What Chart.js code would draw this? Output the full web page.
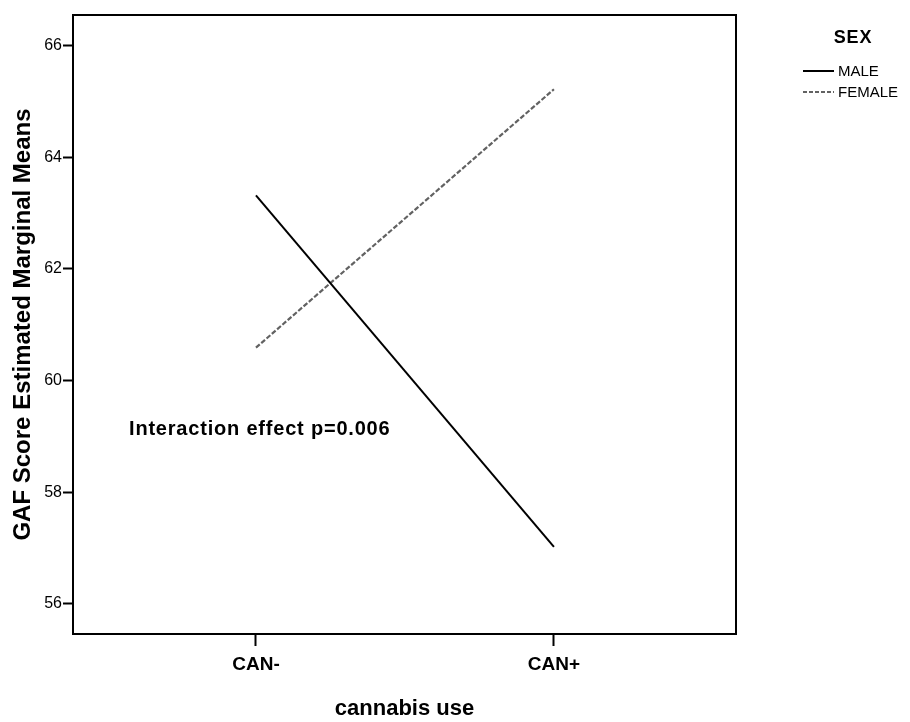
<!DOCTYPE html>
<html>
<head>
<meta charset="utf-8">
<script src="https://cdn.jsdelivr.net/npm/chart.js@4/dist/chart.umd.min.js"></script>
<style>
  html, body { margin: 0; padding: 0; background: #fff; }
  #c { display: block; }
</style>
</head>
<body>
<canvas id="c" width="910" height="722"></canvas>
<script>
// Estimated marginal means of GAF score by cannabis use and sex
const categories = ['CAN-', 'CAN+'];
const maleMeans = [63.32, 57.02];
const femaleMeans = [60.59, 65.22];
const yTicks = [56, 58, 60, 62, 64, 66];
const seriesNames = ['MALE', 'FEMALE'];
const legendTitle = 'SEX';
const noteText = 'Interaction effect p=0.006';

const FONT = '"Liberation Sans", Arial, Helvetica, sans-serif';
const FEMALE_COLOR = '#626262';
const FEMALE_DASH = [5, 2];

// Note anchored in data coordinates (left edge, vertical middle)
const noteAnchor = { x: -0.426, y: 59.13 };

const frameAndExtras = {
  id: 'frameAndExtras',
  afterDraw(chart) {
    const { ctx, chartArea: a, scales } = chart;
    ctx.save();
    // plot frame (top and right edges complete the box)
    ctx.strokeStyle = '#000';
    ctx.lineWidth = 2;
    ctx.strokeRect(a.left, a.top, a.right - a.left, a.bottom - a.top);

    // interaction note
    ctx.fillStyle = '#000';
    ctx.font = 'bold 20px ' + FONT;
    ctx.letterSpacing = '0.8px';
    ctx.textAlign = 'left';
    ctx.textBaseline = 'middle';
    ctx.fillText(noteText, scales.x.getPixelForValue(noteAnchor.x), scales.y.getPixelForValue(noteAnchor.y));

    // legend
    const lx = a.right + 67;
    ctx.font = 'bold 18px ' + FONT;
    ctx.letterSpacing = '0.8px';
    ctx.textAlign = 'center';
    ctx.fillText(legendTitle, lx + 50, 38);

    ctx.letterSpacing = '0px';
    ctx.font = '15px ' + FONT;
    ctx.textAlign = 'left';
    const rows = [
      { y: 71, color: '#000', dash: [] },
      { y: 92, color: FEMALE_COLOR, dash: [4, 2] }
    ];
    rows.forEach((r, i) => {
      ctx.beginPath();
      ctx.setLineDash(r.dash);
      ctx.strokeStyle = r.color;
      ctx.lineWidth = 2;
      ctx.moveTo(lx, r.y);
      ctx.lineTo(lx + 31, r.y);
      ctx.stroke();
      ctx.setLineDash([]);
      ctx.fillStyle = '#000';
      ctx.fillText(chart.data.datasets[i].label, lx + 35, r.y + 1);
    });
    ctx.restore();
  }
};

new Chart(document.getElementById('c'), {
  type: 'line',
  data: {
    datasets: [
      {
        label: seriesNames[0],
        data: maleMeans.map((v, i) => ({ x: i, y: v })),
        borderColor: '#000',
        borderWidth: 2,
        pointRadius: 0,
        fill: false
      },
      {
        label: seriesNames[1],
        data: femaleMeans.map((v, i) => ({ x: i, y: v })),
        borderColor: FEMALE_COLOR,
        borderWidth: 2.2,
        borderDash: FEMALE_DASH,
        pointRadius: 0,
        fill: false
      }
    ]
  },
  options: {
    responsive: false,
    animation: false,
    layout: { padding: { top: 15, right: 174, bottom: 0, left: 0 } },
    plugins: {
      legend: { display: false },
      tooltip: { enabled: false }
    },
    scales: {
      x: {
        type: 'linear',
        min: -0.614,
        max: 1.611,
        afterBuildTicks: s => { s.ticks = categories.map((_, i) => ({ value: i })); },
        afterFit: s => { s.height = 88; },
        ticks: {
          callback: v => categories[v],
          font: { family: FONT, size: 19, weight: 'bold' },
          color: '#000',
          padding: 7,
          maxRotation: 0,
          autoSkip: false
        },
        grid: { drawOnChartArea: false, drawTicks: true, tickLength: 12, tickWidth: 2, tickColor: '#000' },
        border: { display: true, color: '#000', width: 2 },
        title: {
          display: true,
          text: 'cannabis use',
          font: { family: FONT, size: 22, weight: 'bold' },
          color: '#000',
          padding: 0
        }
      },
      y: {
        min: 55.46,
        max: 66.55,
        afterBuildTicks: s => { s.ticks = yTicks.map(v => ({ value: v })); },
        afterFit: s => { s.width = 73; },
        ticks: {
          font: { family: FONT, size: 16 },
          color: '#000',
          padding: 1
        },
        grid: { drawOnChartArea: false, drawTicks: true, tickLength: 10, tickWidth: 2, tickColor: '#000' },
        border: { display: true, color: '#000', width: 2 },
        title: {
          display: true,
          text: 'GAF Score Estimated Marginal Means',
          font: { family: FONT, size: 24, weight: 'bold' },
          color: '#000',
          padding: { top: 9, bottom: 0 }
        }
      }
    }
  },
  plugins: [frameAndExtras]
});
</script>
</body>
</html>
